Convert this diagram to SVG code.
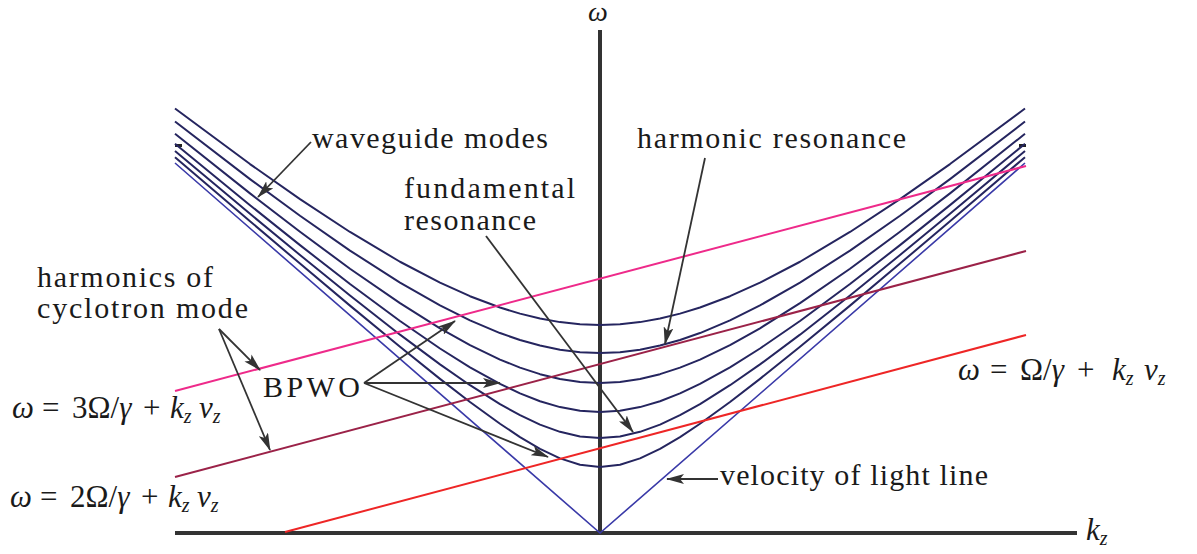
<svg xmlns="http://www.w3.org/2000/svg" width="1197" height="554" viewBox="0 0 1197 554">
<style>
.mode{fill:none;stroke:#25255f;stroke-width:2;stroke-linejoin:round}
.light{fill:none;stroke:#3a3aa8;stroke-width:1.6}
.axis{stroke:#333;stroke-width:4;fill:none}
.arr{stroke:#333;stroke-width:1.8;fill:none;marker-end:url(#ah)}
.t{font-family:"Liberation Serif","Times New Roman",serif;font-size:30px;fill:#1a1a1a}
.m{font-family:"Liberation Serif","Times New Roman",serif;font-size:31px;fill:#1a1a1a}
.i{font-style:italic}
.s{font-style:italic;font-size:20px}
</style>
<defs>
<marker id="ah" viewBox="0 0 18 10" refX="17" refY="5" markerWidth="18" markerHeight="10" markerUnits="userSpaceOnUse" orient="auto">
<path d="M0,0 L18,5 L0,10 L4,5 z" fill="#333"/>
</marker>
</defs>
<rect width="1197" height="554" fill="#fff"/>
<g id="axes">
<line class="axis" x1="600" y1="30" x2="600" y2="535"/>
<line class="axis" x1="175" y1="533" x2="1077" y2="533"/>
<rect x="175" y="144" width="7" height="3" fill="#222"/>
<rect x="1019" y="144" width="7" height="3" fill="#222"/>
</g>
<g id="light-lines">
<polyline class="light" points="175,163 600,533 1025,163"/>
</g>
<g id="waveguide-modes">
<polyline class="mode" points="175,108.54 250,164.07 300,199.10 350,231.98 400,261.75 440,282.66 470,296.19 500,307.52 520,313.65 540,318.54 560,322.11 580,324.27 600,325 620,324.27 640,322.11 660,318.54 680,313.65 700,307.52 730,296.19 760,282.66 800,261.75 850,231.98 900,199.10 950,164.07 1025,108.54"/>
<polyline class="mode" points="175,121.54 250,179.10 300,215.79 350,250.60 400,282.58 440,305.39 470,320.36 500,333.05 520,340.00 540,345.57 560,349.66 580,352.16 600,353 620,352.16 640,349.66 660,345.57 680,340.00 700,333.05 730,320.36 760,305.39 800,282.58 850,250.60 900,215.79 950,179.10 1025,121.54"/>
<polyline class="mode" points="175,133.75 250,193.38 300,231.79 350,268.71 400,303.19 440,328.29 470,345.08 500,359.57 520,367.62 540,374.16 560,379.01 580,381.99 600,383 620,381.99 640,379.01 660,374.16 680,367.62 700,359.57 730,345.08 760,328.29 800,303.19 850,268.71 900,231.79 950,193.38 1025,133.75"/>
<polyline class="mode" points="175,143.72 250,205.15 300,245.14 350,284.02 400,320.98 440,348.49 470,367.30 500,383.94 520,393.39 540,401.20 560,407.09 580,410.75 600,412 620,410.75 640,407.09 660,401.20 680,393.39 700,383.94 730,367.30 760,348.49 800,320.98 850,284.02 900,245.14 950,205.15 1025,143.72"/>
<polyline class="mode" points="175,151.00 250,213.83 300,255.06 350,295.57 400,334.67 440,364.39 470,385.22 500,404.14 520,415.20 540,424.58 560,431.82 580,436.42 600,438 620,436.42 640,431.82 660,424.58 680,415.20 700,404.14 730,385.22 760,364.39 800,334.67 850,295.57 900,255.06 950,213.83 1025,151.00"/>
<polyline class="mode" points="175,157.16 250,221.23 300,263.59 350,305.61 400,346.81 440,378.86 470,401.97 500,423.75 520,437.05 540,448.83 560,458.38 580,464.74 600,467 620,464.74 640,458.38 660,448.83 680,437.05 700,423.75 730,401.97 760,378.86 800,346.81 850,305.61 900,263.59 950,221.23 1025,157.16"/>
</g>
<g id="cyclotron-lines">
<line x1="175" y1="391" x2="1026" y2="166" stroke="#ee2a8a" stroke-width="2"/>
<line x1="175" y1="477" x2="1026" y2="251" stroke="#9b2248" stroke-width="2"/>
<line x1="285" y1="532" x2="1026" y2="335" stroke="#ee2626" stroke-width="2"/>
</g>
<g id="connectors">
<line class="arr" x1="311" y1="142" x2="258" y2="197"/>
<line class="arr" x1="705" y1="158" x2="665" y2="344"/>
<line class="arr" x1="486" y1="236" x2="633" y2="432"/>
<line class="arr" x1="219" y1="329" x2="260" y2="370"/>
<line class="arr" x1="219" y1="329" x2="270" y2="450"/>
<line class="arr" x1="364" y1="383" x2="455" y2="321"/>
<line class="arr" x1="364" y1="383" x2="500" y2="383"/>
<line class="arr" x1="364" y1="383" x2="548" y2="457"/>
<line class="arr" x1="718" y1="479" x2="667" y2="479"/>
</g>
<g id="label-omega-axis"><text class="i" x="588" y="21" font-family="Liberation Serif, serif" font-size="28" fill="#1a1a1a">ω</text></g>
<g id="label-kz"><text class="m" x="1086" y="540"><tspan class="i">k</tspan><tspan class="s" dy="5">z</tspan></text></g>
<g id="label-waveguide"><text class="t" x="312" y="148" textLength="236">waveguide modes</text></g>
<g id="label-harmonic-res"><text class="t" x="637" y="148" textLength="269">harmonic resonance</text></g>
<g id="label-fundamental"><text class="t" x="404" y="198" textLength="171">fundamental</text><text class="t" x="404" y="230" textLength="132">resonance</text></g>
<g id="label-harmonics"><text class="t" x="37" y="287" textLength="176">harmonics of</text><text class="t" x="37" y="318" textLength="211">cyclotron mode</text></g>
<g id="label-bpwo"><text class="t" x="263" y="397" textLength="97">BPWO</text></g>
<g id="label-light"><text class="t" x="720" y="485" textLength="268">velocity of light line</text></g>
<g id="eq3"><text class="m" y="418"><tspan class="i" x="12">ω</tspan><tspan x="42">=</tspan><tspan x="72">3Ω/</tspan><tspan class="i">γ</tspan><tspan x="143">+</tspan><tspan class="i" x="170">k</tspan><tspan class="s" dy="5">z</tspan><tspan class="i" x="199" dy="-5">v</tspan><tspan class="s" dy="5">z</tspan></text></g>
<g id="eq2"><text class="m" y="507"><tspan class="i" x="10">ω</tspan><tspan x="40">=</tspan><tspan x="70">2Ω/</tspan><tspan class="i">γ</tspan><tspan x="141">+</tspan><tspan class="i" x="168">k</tspan><tspan class="s" dy="5">z</tspan><tspan class="i" x="197" dy="-5">v</tspan><tspan class="s" dy="5">z</tspan></text></g>
<g id="eq1"><text class="m" y="380"><tspan class="i" x="958">ω</tspan><tspan x="990">=</tspan><tspan x="1020">Ω/</tspan><tspan class="i">γ</tspan><tspan x="1077">+</tspan><tspan class="i" x="1112">k</tspan><tspan class="s" dy="5">z</tspan><tspan class="i" x="1144" dy="-5">v</tspan><tspan class="s" dy="5">z</tspan></text></g>
</svg>
